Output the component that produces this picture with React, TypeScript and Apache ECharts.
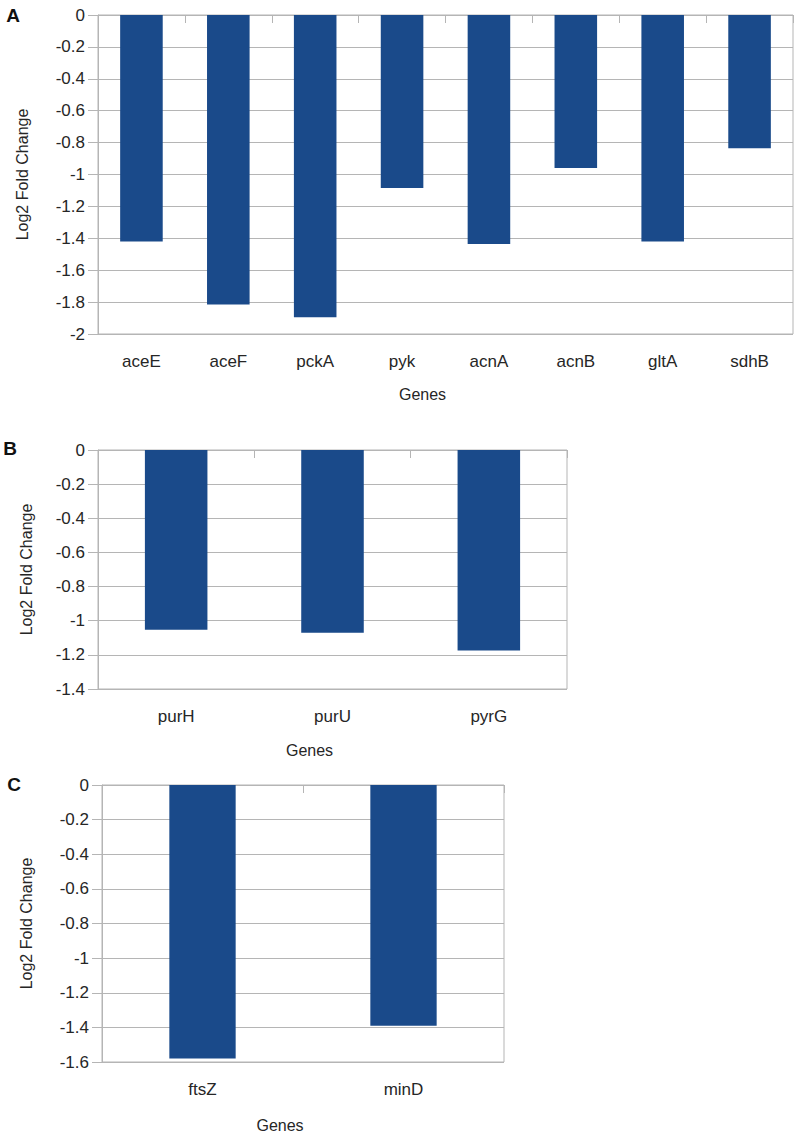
import React, { useEffect, useRef } from "react";
import * as echarts from "echarts";

const genesA = ["aceE", "aceF", "pckA", "pyk", "acnA", "acnB", "gltA", "sdhB"];
const valuesA = [-1.42, -1.815, -1.895, -1.085, -1.435, -0.96, -1.42, -0.835];

const genesB = ["purH", "purU", "pyrG"];
const valuesB = [-1.053, -1.07, -1.175];

const genesC = ["ftsZ", "minD"];
const valuesC = [-1.58, -1.39];

const yMinA = -2;
const yMinB = -1.4;
const yMinC = -1.6;
const yStep = 0.2;

const panelLetters = ["A", "B", "C"];
const xTitle = "Genes";
const yTitle = "Log2 Fold Change";

const FONT = "'Liberation Sans', Arial, Helvetica, sans-serif";
const TEXT = "#262626";
const GRIDC = "#b5b5b5";
const BAR = "#1a4a8a";

export default function App() {
  const ref = useRef<HTMLDivElement>(null);

  useEffect(() => {
    if (!ref.current) return;
    const chart = echarts.init(ref.current, null, { renderer: "svg" });

    const grids = [
      { left: 98, top: 15, width: 695, height: 319 },
      { left: 98, top: 450, width: 469, height: 239 },
      { left: 102, top: 785, width: 402, height: 277 },
    ];
    const cats = [genesA, genesB, genesC];
    const vals = [valuesA, valuesB, valuesC];
    const mins = [yMinA, yMinB, yMinC];
    const barWidths = ["49%", "40%", "33%"];
    const nameGaps = [52, 53, 55];
    const yNameGaps = [68, 64, 68];

    const xAxes: any[] = [];
    const yAxes: any[] = [];
    const series: any[] = [];

    grids.forEach((g, i) => {
      xAxes.push({
        type: "category",
        gridIndex: i,
        data: cats[i],
        position: "bottom",
        axisLine: { show: false, onZero: false },
        axisTick: { show: false },
        axisLabel: { margin: 19, fontSize: 17, color: TEXT, fontFamily: FONT },
        name: xTitle,
        nameLocation: "middle",
        nameGap: nameGaps[i],
        nameTextStyle: { fontSize: 16, color: TEXT, fontFamily: FONT, padding: [0, 46, 0, 0] },
      });
      xAxes.push({
        type: "category",
        gridIndex: i,
        data: cats[i],
        position: "top",
        axisLine: { show: false, onZero: false },
        axisTick: { show: true, inside: true, length: 8, lineStyle: { color: GRIDC } },
        axisLabel: { show: false },
      });
      yAxes.push({
        type: "value",
        gridIndex: i,
        min: mins[i],
        max: 0,
        interval: yStep,
        axisLine: { show: true, lineStyle: { color: GRIDC } },
        axisTick: { show: true, length: 10, lineStyle: { color: GRIDC } },
        splitLine: { show: true, lineStyle: { color: GRIDC, width: 1 } },
        axisLabel: { margin: 13, fontSize: 17, color: TEXT, fontFamily: FONT },
        name: yTitle,
        nameLocation: "middle",
        nameGap: yNameGaps[i],
        nameRotate: 90,
        nameTextStyle: { fontSize: 16, color: TEXT, fontFamily: FONT },
      });
      series.push({
        type: "bar",
        xAxisIndex: i * 2,
        yAxisIndex: i,
        data: vals[i],
        barWidth: barWidths[i],
        itemStyle: { color: BAR },
      });
    });

    const letterPos = [
      [13, 15],
      [10, 448],
      [14, 784],
    ];

    chart.setOption({
      animation: false,
      backgroundColor: "#ffffff",
      grid: grids.map((g) => ({ ...g, show: true, borderColor: GRIDC, borderWidth: 1, backgroundColor: "transparent" })),
      xAxis: xAxes,
      yAxis: yAxes,
      series,
      graphic: panelLetters.map((t, i) => ({
        type: "text",
        x: letterPos[i][0],
        y: letterPos[i][1],
        style: {
          text: t,
          fontSize: 19,
          fontWeight: "bold",
          fontFamily: FONT,
          fill: "#111",
          align: "center",
          verticalAlign: "middle",
        },
      })),
    });

    return () => chart.dispose();
  }, []);

  return (
    <div
      ref={ref}
      style={{ position: "absolute", left: 0, top: 0, width: 800, height: 1138, background: "#fff" }}
    />
  );
}
